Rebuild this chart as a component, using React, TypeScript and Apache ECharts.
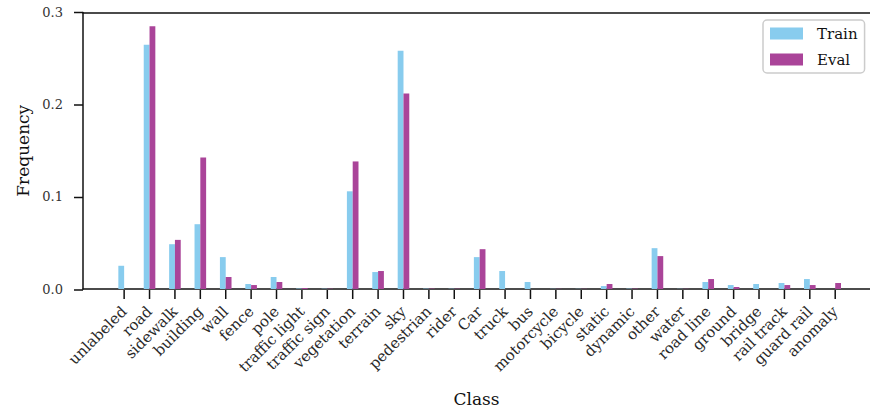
import React, { useEffect, useRef } from "react";
import * as echarts from "echarts";

const categories = [
  "unlabeled", "road", "sidewalk", "building", "wall", "fence", "pole",
  "traffic light", "traffic sign", "vegetation", "terrain", "sky", "pedestrian",
  "rider", "Car", "truck", "bus", "motorcycle", "bicycle", "static", "dynamic",
  "other", "water", "road line", "ground", "bridge", "rail track", "guard rail",
  "anomaly",
];

const trainValues = [
  0.0252, 0.265, 0.0486, 0.0703, 0.0346, 0.0054, 0.013,
  0.0005, 0.0003, 0.106, 0.0184, 0.2584, 0.0004,
  0.0003, 0.0346, 0.0195, 0.0076, 0.0002, 0.0002, 0.0032, 0.0004,
  0.0443, 0.0002, 0.0076, 0.0043, 0.0054, 0.0065, 0.0108,
  0.0,
];

const evalValues = [
  0.0, 0.285, 0.0533, 0.1427, 0.013, 0.0043, 0.0076,
  0.001, 0.0003, 0.1384, 0.0195, 0.212, 0.0004,
  0.0003, 0.0432, 0.0, 0.0, 0.0002, 0.0002, 0.0054, 0.0004,
  0.0357, 0.0002, 0.0108, 0.0022, 0.0, 0.0043, 0.0043,
  0.0065,
];

const yTicks = [0, 0.1, 0.2, 0.3];

const X_MIN = -1.62;
const X_MAX = 29.37;
const FONT = "DejaVu Serif";
const TICK_LEN = 9;
const TICK_W = 1.5;

export default function App() {
  const ref = useRef<HTMLDivElement>(null);
  useEffect(() => {
    if (!ref.current) return;
    const chart = echarts.init(ref.current, undefined, { renderer: "svg" });
    const idx = categories.map((_, i) => i);
    const hidden = {
      show: false,
      axisLine: { show: false },
      axisTick: { show: false },
      axisLabel: { show: false },
      splitLine: { show: false },
    };
    chart.setOption({
      animation: false,
      backgroundColor: "#ffffff",
      grid: [
        { left: 83, right: 0, top: 12.5, bottom: 122, containLabel: false },
        { left: 83, right: 0, top: 290, height: TICK_LEN, containLabel: false },
        { left: 83 - TICK_LEN, width: TICK_LEN, top: 12.5, bottom: 122, containLabel: false },
      ],
      legend: {
        orient: "vertical",
        left: 763,
        top: 20,
        itemWidth: 33,
        itemHeight: 12,
        itemGap: 11,
        padding: [6, 7, 6, 7],
        borderColor: "#cccccc",
        borderWidth: 1.5,
        borderRadius: 4,
        backgroundColor: "rgba(255,255,255,0.85)",
        icon: "rect",
        textStyle: { fontFamily: FONT, fontSize: 15, color: "#111", padding: [0, 0, 0, 9] },
        data: ["Train", "Eval"],
      },
      xAxis: [
        {
          type: "value",
          gridIndex: 0,
          min: X_MIN,
          max: X_MAX,
          name: "Class",
          nameLocation: "middle",
          nameGap: 101,
          nameTextStyle: { fontFamily: FONT, fontSize: 17, color: "#111" },
          splitLine: { show: false },
          axisLine: { show: true, onZero: false, lineStyle: { color: "#111", width: 1.5 } },
          axisTick: { show: false },
          axisLabel: {
            show: true,
            customValues: idx,
            rotate: 45,
            margin: 20,
            fontFamily: FONT,
            fontSize: 15,
            color: "#2a2a2a",
            formatter: (v: number) => categories[Math.round(v)] ?? "",
          },
        },
        {
          type: "value",
          gridIndex: 0,
          position: "top",
          min: X_MIN,
          max: X_MAX,
          splitLine: { show: false },
          axisLine: { show: true, onZero: false, lineStyle: { color: "#111", width: 1.5 } },
          axisTick: { show: false },
          axisLabel: { show: false },
        },
        { type: "value", gridIndex: 1, min: X_MIN, max: X_MAX, ...hidden },
        { type: "value", gridIndex: 2, min: 0, max: 1, ...hidden },
      ],
      yAxis: [
        {
          type: "value",
          gridIndex: 0,
          min: 0,
          max: 0.3,
          interval: 0.1,
          name: "Frequency",
          nameLocation: "middle",
          nameGap: 50,
          nameTextStyle: { fontFamily: FONT, fontSize: 17, color: "#111" },
          splitLine: { show: false },
          axisLine: { show: true, onZero: false, lineStyle: { color: "#111", width: 1.5 } },
          axisTick: { show: false },
          axisLabel: {
            margin: 20,
            fontFamily: FONT,
            fontSize: 13,
            color: "#333",
            formatter: (v: number) =>
              yTicks.some((t) => Math.abs(t - v) < 1e-9) ? v.toFixed(1) : "",
          },
        },
        { type: "value", gridIndex: 1, min: 0, max: 1, ...hidden },
        {
          type: "category",
          gridIndex: 2,
          boundaryGap: false,
          data: yTicks.map((t) => t.toFixed(1)),
          ...hidden,
        },
      ],
      series: [
        {
          name: "Train",
          type: "bar",
          xAxisIndex: 0,
          yAxisIndex: 0,
          barWidth: 5.8,
          barGap: "0%",
          itemStyle: { color: "#88CCEE" },
          data: trainValues.map((v, i) => [i, v]),
        },
        {
          name: "Eval",
          type: "bar",
          xAxisIndex: 0,
          yAxisIndex: 0,
          barWidth: 5.8,
          barGap: "0%",
          itemStyle: { color: "#AA4499" },
          data: evalValues.map((v, i) => [i, v]),
        },
        {
          name: "xTickMarks",
          type: "bar",
          xAxisIndex: 2,
          yAxisIndex: 1,
          silent: true,
          clip: false,
          barWidth: TICK_W,
          itemStyle: { color: "#111" },
          data: idx.map((i) => [i, 1]),
        },
        {
          name: "yTickMarks",
          type: "bar",
          xAxisIndex: 3,
          yAxisIndex: 2,
          silent: true,
          clip: false,
          barWidth: TICK_W,
          itemStyle: { color: "#111" },
          data: yTicks.map(() => 1),
        },
      ],
    });

    return () => chart.dispose();
  }, []);
  return (
    <div
      ref={ref}
      style={{ position: "fixed", left: 0, top: 0, width: 870, height: 412 }}
    />
  );
}
